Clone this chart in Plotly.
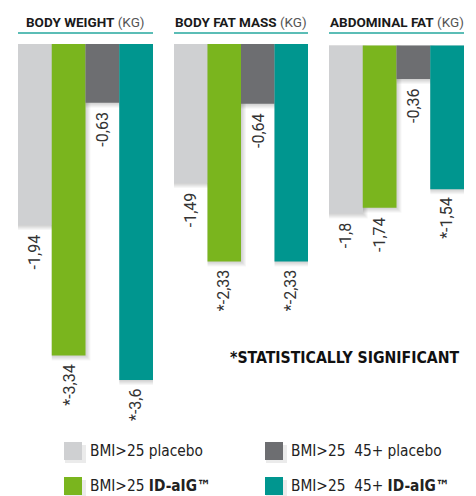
import plotly.graph_objects as go

W, H = 476, 496

# ---- data ----
panels = ["BODY WEIGHT", "BODY FAT MASS", "ABDOMINAL FAT"]
unit = "(KG)"
series = ["BMI>25 placebo", "BMI>25 <b>ID-aIG™</b>",
          "BMI>25  45+ placebo", "BMI>25  45+ <b>ID-aIG™</b>"]
placebo = [-1.94, -1.49, -1.80]
id_aig = [-3.34, -2.33, -1.74]
placebo_45 = [-0.63, -0.64, -0.36]
id_aig_45 = [-3.60, -2.33, -1.54]
sig_placebo = [False, False, False]
sig_id_aig = [True, True, False]
sig_placebo_45 = [False, False, False]
sig_id_aig_45 = [True, True, True]
footnote = "*STATISTICALLY SIGNIFICANT"

colors = ["#cfd0d2", "#7ab51e", "#6d6e71", "#00968f"]
values = [placebo, id_aig, placebo_45, id_aig_45]
sigs = [sig_placebo, sig_id_aig, sig_placebo_45, sig_id_aig_45]

# ---- layout geometry (pixels) ----
domains_px = [(18, 153), (174, 308), (329, 464)]
zero_px = [44, 44, 45.5]
ppu = 93.3  # pixels per unit on y
COND = "DejaVu Sans Condensed, Roboto, sans-serif"

fig = go.Figure()

def fmt(v, s):
    t = ("%g" % v).replace(".", ",")
    return ("*" + t) if s else t

annotations = []
shapes = []
for p in range(3):
    ax = "" if p == 0 else str(p + 1)
    xs = list(range(4))
    vals = [values[s][p] for s in range(4)]
    x_ppu = (domains_px[p][1] - domains_px[p][0]) / 4.0
    # soft shadow layers
    for k in range(1, 6):
        fig.add_trace(go.Bar(
            x=xs, y=[v - k / ppu for v in vals], base=0,
            width=1 + k / x_ppu, offset=-0.5,
            marker=dict(color="rgba(0,0,0,0.035)", line=dict(width=0)),
            xaxis="x" + ax, yaxis="y" + ax, showlegend=False, hoverinfo="skip"))
    fig.add_trace(go.Bar(
        x=xs, y=vals, width=1, offset=-0.5,
        marker=dict(color=colors, line=dict(width=0)),
        xaxis="x" + ax, yaxis="y" + ax, showlegend=False))
    # value labels
    for s in range(4):
        annotations.append(dict(
            x=s, y=vals[s], xref="x" + ax, yref="y" + ax,
            text=fmt(vals[s], sigs[s][p]), textangle=-90,
            showarrow=False, xanchor="center", yanchor="top", yshift=-7,
            font=dict(family="Roboto", size=16, color="#333333")))
    # titles
    cx = (domains_px[p][0] + domains_px[p][1]) / 2.0
    annotations.append(dict(
        x=cx / W, y=1 - 22 / H, xref="paper", yref="paper",
        text="<b>%s</b> <span style='color:#555555'>%s</span>" % (panels[p], unit),
        showarrow=False, xanchor="center", yanchor="middle",
        font=dict(family="Roboto", size=13.5, color="#1a1a1a")))
    shapes.append(dict(type="line", xref="paper", yref="paper",
                       x0=domains_px[p][0] / W, x1=domains_px[p][1] / W,
                       y0=1 - 33 / H, y1=1 - 33 / H,
                       line=dict(color="#5bbdb6", width=2)))
    top = zero_px[p] / ppu
    bot = -(H - zero_px[p]) / ppu
    fig.update_layout(**{
        "xaxis" + ax: dict(domain=[domains_px[p][0] / W, domains_px[p][1] / W],
                           range=[-0.5, 3.5], visible=False, fixedrange=True,
                           anchor="y" + ax),
        "yaxis" + ax: dict(domain=[0, 1], range=[bot, top], visible=False,
                           fixedrange=True, anchor="x" + ax),
    })

# footnote
annotations.append(dict(
    x=462 / W, y=1 - 357 / H, xref="paper", yref="paper", text="<b>%s</b>" % footnote,
    showarrow=False, xanchor="right", yanchor="middle",
    font=dict(family=COND, size=15.7, color="#111111")))

# legend (manual)
leg_pos = [(64, 451), (64, 486), (265, 451), (265, 486)]
for s in range(4):
    lx, ly = leg_pos[s]
    shapes.append(dict(type="rect", xref="paper", yref="paper",
                       x0=(lx + 1) / W, x1=(lx + 4 + 18) / W,
                       y0=1 - (ly + 9 + 3) / H, y1=1 - (ly - 9 + 3) / H,
                       fillcolor="rgba(0,0,0,0.08)", line=dict(width=0), layer="below"))
    shapes.append(dict(type="rect", xref="paper", yref="paper",
                       x0=lx / W, x1=(lx + 18) / W,
                       y0=1 - (ly + 9) / H, y1=1 - (ly - 9) / H,
                       fillcolor=colors[s], line=dict(width=0)))
    annotations.append(dict(
        x=(lx + 24) / W, y=1 - ly / H, xref="paper", yref="paper",
        text=series[s], showarrow=False, xanchor="left", yanchor="middle",
        font=dict(family=COND, size=15.3, color="#222222")))

fig.update_layout(
    width=W, height=H, margin=dict(l=0, r=0, t=0, b=0),
    paper_bgcolor="white", plot_bgcolor="white",
    barmode="overlay", showlegend=False,
    annotations=annotations, shapes=shapes,
)

fig.write_html("out.html")
